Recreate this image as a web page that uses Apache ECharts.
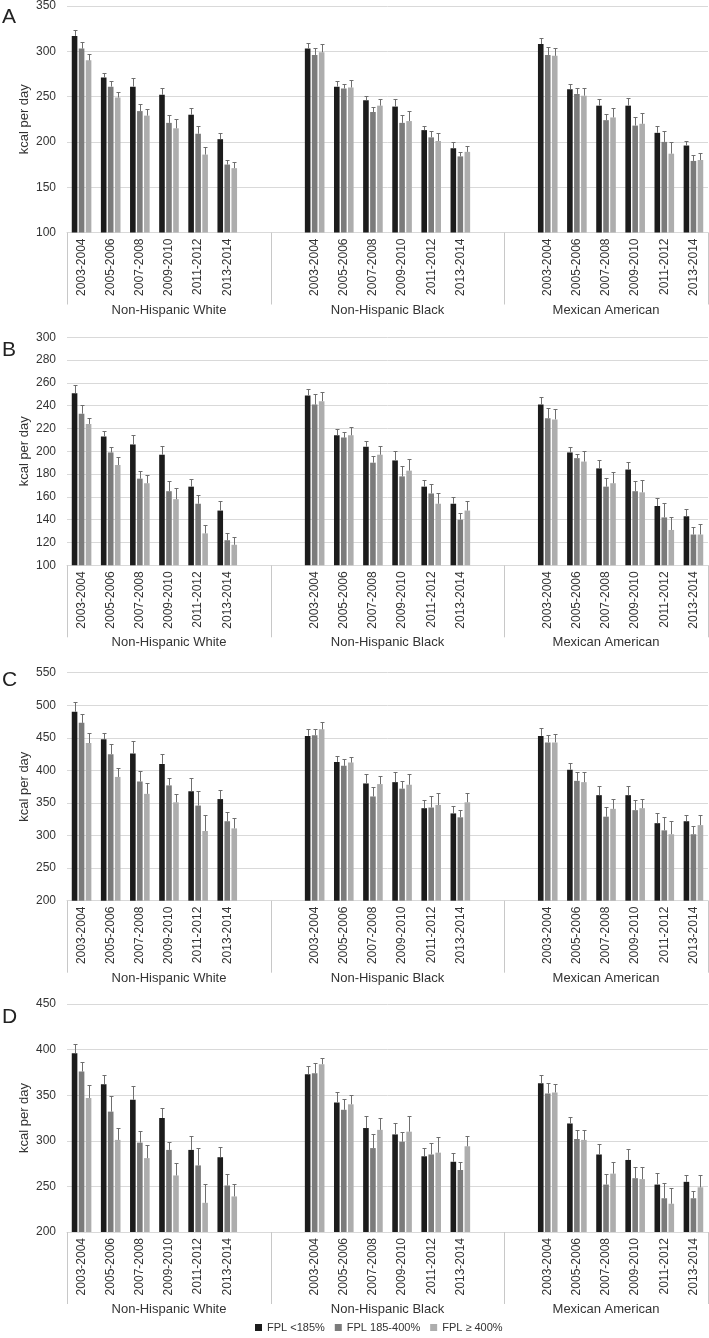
<!DOCTYPE html>
<html>
<head>
<meta charset="utf-8">
<script src="https://cdn.jsdelivr.net/npm/echarts@6/dist/echarts.min.js"></script>
<style>
html,body{margin:0;padding:0;background:#fff;}
#chart{width:709px;height:1338px;}
</style>
</head>
<body>
<div id="chart"></div>
<script>
// ---- data ----
const periods = ['2003-2004','2005-2006','2007-2008','2009-2010','2011-2012','2013-2014'];
const groups = ['Non-Hispanic White','Non-Hispanic Black','Mexican American'];
const fplNames = ['FPL <185%','FPL 185-400%','FPL \u2265 400%'];
const panelLetters = ['A','B','C','D'];
const yMin = [100,100,200,200];
const yMax = [350,300,550,450];
const yStep = [50,20,50,50];

// values ordered NHW(6), NHB(6), MA(6); *_top = upper end of error bar
const A_low      = [317,271,261,252,230,203, 303,261,246,239,213,193, 308,258,240,240,210,196];
const A_low_top  = [323,276,271,260,237,210, 309,267,251,247,218,200, 315,264,247,248,218,201];
const A_mid      = [303,261,234,221,209,175, 296,259,233,221,205,184, 296,253,224,218,200,179];
const A_mid_top  = [310,267,242,230,218,180, 304,264,238,230,212,189, 305,259,231,228,212,186];
const A_high     = [290,249,229,215,186,171, 299,260,240,223,201,189, 295,251,227,220,187,180];
const A_high_top = [297,255,236,225,194,178, 308,268,247,234,210,196, 304,259,237,232,200,188];

const B_low      = [251,213,206,197,169,148, 249,214,204,192,169,154, 241,199,185,184,152,143];
const B_low_top  = [258,218,214,205,176,156, 255,220,209,200,175,160, 248,204,192,191,159,149];
const B_mid      = [233,199,176,165,154,122, 241,212,190,178,163,140, 229,194,169,165,142,127];
const B_mid_top  = [241,204,183,174,162,128, 250,217,196,187,171,146, 238,198,177,174,155,134];
const B_high     = [224,188,172,158,128,118, 244,214,197,183,154,148, 228,191,172,164,131,127];
const B_high_top = [229,195,179,168,135,125, 252,221,205,193,163,156, 237,200,182,175,142,136];

const C_low      = [490,448,426,410,368,356, 453,413,380,382,342,334, 453,401,362,362,319,322];
const C_low_top  = [505,458,445,425,388,370, 463,422,394,397,355,345, 465,411,376,376,334,332];
const C_mid      = [473,425,383,377,346,322, 454,407,360,372,343,328, 443,384,329,339,308,302];
const C_mid_top  = [486,441,399,389,369,336, 463,417,375,384,361,339, 454,397,344,354,328,314];
const C_high     = [442,390,364,351,307,311, 463,412,379,378,347,351, 443,382,341,342,302,316];
const C_high_top = [458,403,381,364,331,327, 475,421,392,394,366,366, 456,397,356,356,322,332];

const D_low      = [396,362,345,325,290,282, 373,342,314,307,283,277, 363,319,285,279,252,255];
const D_low_top  = [406,372,360,336,305,293, 382,353,327,320,292,287, 372,326,297,291,265,262];
const D_mid      = [376,332,298,290,273,251, 374,334,292,299,285,268, 352,302,252,259,237,237];
const D_mid_top  = [386,349,311,299,292,264, 385,346,307,310,298,277, 363,312,264,271,254,245];
const D_high     = [347,301,281,262,232,239, 384,340,312,310,287,294, 353,301,264,258,231,249];
const D_high_top = [361,314,295,276,253,253, 391,350,325,327,304,305, 362,312,277,271,248,262];

const panelValues = [
  [[A_low,A_low_top],[A_mid,A_mid_top],[A_high,A_high_top]],
  [[B_low,B_low_top],[B_mid,B_mid_top],[B_high,B_high_top]],
  [[C_low,C_low_top],[C_mid,C_mid_top],[C_high,C_high_top]],
  [[D_low,D_low_top],[D_mid,D_mid_top],[D_high,D_high_top]]
];

// ---- layout / style ----
const FONT = 'Liberation Sans, Arial, sans-serif';
const colors = ['#1c1c1c','#7b7b7b','#adadad'];
const gridTops = [4.5, 337.3, 672.7, 1004];
const gridH = 228;
const BAR_W = 5.6, GAP = 1.4;

// category slots: NHW 0-5, blank 6-7, NHB 8-13, blank 14-15, MA 16-21
const slotIndex = [];
for (let g = 0; g < 3; g++) for (let p = 0; p < 6; p++) slotIndex.push(g * 8 + p);
const categories = [];
for (let i = 0; i < 22; i++) categories.push('');
slotIndex.forEach((s, k) => { categories[s] = periods[k % 6]; });

const chart = echarts.init(document.getElementById('chart'), null, {renderer:'canvas'});

const grids = [], xAxes = [], yAxes = [], series = [], graphics = [];
for (let pi = 0; pi < 4; pi++) {
  grids.push({left: 67, right: 1, top: gridTops[pi], height: gridH});
  xAxes.push({
    type: 'category', gridIndex: pi, data: categories, boundaryGap: true,
    axisLine: {show: true, lineStyle: {color: '#d9d9d9', width: 1}},
    axisTick: {show: false},
    axisLabel: {interval: 0, rotate: 90, fontSize: 12, color: '#333', fontFamily: FONT, margin: 6}
  });
  xAxes.push({
    type: 'value', gridIndex: pi, min: 0, max: 22, position: 'bottom',
    axisLine: {show: false}, splitLine: {show: false},
    axisTick: {show: true, customValues: [0, 7, 15, 22], length: 72, lineStyle: {color: '#c8c8c8', width: 1}},
    axisLabel: {show: true, customValues: [3.5, 11, 18.5], margin: 71, fontSize: 13, color: '#333', fontFamily: FONT,
      formatter: v => (v < 7 ? groups[0] : (v < 15 ? groups[1] : groups[2]))}
  });
  yAxes.push({
    type: 'value', gridIndex: pi, min: yMin[pi], max: yMax[pi], interval: yStep[pi],
    name: 'kcal per day', nameLocation: 'middle', nameGap: 36, nameRotate: 90, nameMoveOverlap: false,
    nameTextStyle: {fontSize: 13, color: '#333', fontFamily: FONT},
    axisLine: {show: false}, axisTick: {show: false},
    axisLabel: {fontSize: 12, color: '#333', fontFamily: FONT, margin: 11},
    splitLine: {show: true, lineStyle: {color: '#d9d9d9', width: 1}}
  });
  for (let f = 0; f < 3; f++) {
    const vals = panelValues[pi][f][0];
    const tops = panelValues[pi][f][1];
    const data = categories.map(() => '-');
    const errData = [];
    slotIndex.forEach((s, k) => {
      data[s] = vals[k];
      errData.push([s, tops[k], vals[k]]);
    });
    series.push({
      type: 'bar', name: fplNames[f], xAxisIndex: pi * 2, yAxisIndex: pi,
      data: data, barWidth: BAR_W, barGap: (GAP / BAR_W * 100) + '%',
      itemStyle: {color: colors[f]}, silent: true, animation: false
    });
    const offset = (f - 1) * (BAR_W + GAP);
    series.push({
      type: 'custom', name: 'err' + pi + f, xAxisIndex: pi * 2, yAxisIndex: pi,
      data: errData, encode: {x: 0, y: 1}, z: 5, silent: true, animation: false,
      renderItem: function (params, api) {
        const x = api.value(0);
        const pTop = api.coord([x, api.value(1)]);
        const pBase = api.coord([x, api.value(2)]);
        const cx = Math.round(pTop[0] + offset) + 0.5;
        const ty = Math.round(pTop[1]) + 0.5;
        const st = {stroke: '#6f6f6f', lineWidth: 1};
        return {type: 'group', children: [
          {type: 'line', shape: {x1: cx, y1: pBase[1], x2: cx, y2: ty}, style: st},
          {type: 'line', shape: {x1: cx - 2, y1: ty, x2: cx + 2, y2: ty}, style: st}
        ]};
      }
    });
  }
  graphics.push({type: 'text', left: 2, top: gridTops[pi] + [2, 2, -3, 3][pi],
    style: {text: panelLetters[pi], fontSize: 21, fill: '#222', font: '21px ' + FONT}});
}

chart.setOption({
  animation: false,
  backgroundColor: '#fff',
  textStyle: {fontFamily: FONT},
  grid: grids,
  xAxis: xAxes,
  yAxis: yAxes,
  legend: {
    data: fplNames, left: 250, top: 1317, itemWidth: 7, itemHeight: 7, itemGap: 10, icon: 'rect',
    textStyle: {fontSize: 11, color: '#333', fontFamily: FONT}, selectedMode: false
  },
  graphic: graphics,
  series: series
});
</script>
</body>
</html>
